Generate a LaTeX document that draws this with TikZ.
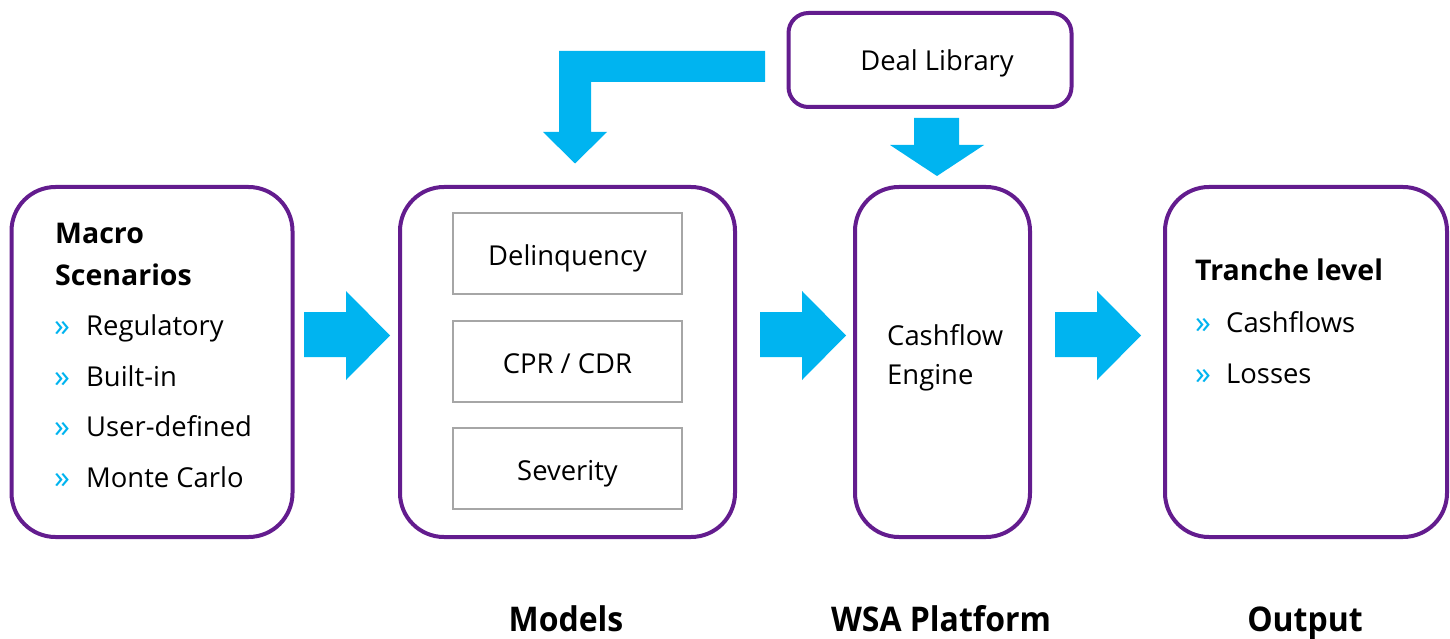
\documentclass[tikz,border=0pt]{standalone}
\usepackage{fontspec}
\setmainfont{Open Sans}
\newfontfamily\condensed[FakeStretch=0.94]{Open Sans}
\usetikzlibrary{positioning}
\definecolor{frame}{RGB}{99,28,142}
\definecolor{flow}{RGB}{0,180,240}
\definecolor{sub}{RGB}{166,166,166}
\tikzset{
  stage/.style={draw=frame, line width=4pt, rounded corners=44pt, fill=white, inner sep=0pt},
  library/.style={draw=frame, line width=4pt, rounded corners=20pt, fill=white, inner sep=0pt},
  part/.style={draw=sub, line width=2.8pt, inner sep=0pt, minimum width=229pt, minimum height=81pt,
    text height=23pt, text depth=0pt, font=\fontsize{27.4}{31}\selectfont},
  txt/.style={anchor=base west, inner sep=0pt, font=\fontsize{27.4}{31}\selectfont},
  head/.style={txt, font=\fontsize{28.5}{32}\selectfont\bfseries},
  bullet/.style={anchor=base west, inner sep=0pt, text=flow, font=\fontsize{32}{34}\selectfont},
  caption/.style={anchor=base, inner sep=0pt, font=\fontsize{34}{38}\selectfont\condensed\bfseries},
  block/.style={fill=flow, draw=none}
}
\begin{document}
\begin{tikzpicture}[x=1pt, y=-1pt]
\useasboundingbox (0,0) rectangle (1450,639);

% stage frames
\node[stage, minimum width=281pt, minimum height=350pt] (macro) at (152,362) {};
\node[stage, minimum width=335pt, minimum height=350pt] (models) at (567.5,362) {};
\node[stage, minimum width=175pt, minimum height=350pt] (engine) at (942.5,362) {};
\node[stage, minimum width=282pt, minimum height=350pt] (output) at (1306,362) {};
\node[library, minimum width=283pt, minimum height=94pt] (deal) at (930,60) {};

% model components
\node[part] (delinq) at (567.5,253.5) {Delinquency};
\node[part] (cpr) at (567.5,361.5) {CPR / CDR};
\node[part] (sev) at (567.5,468.5) {Severity};

% macro scenarios
\node[head] (mh1) at (55,243) {Macro};
\node[head] (mh2) at (55,285) {Scenarios};
\node[bullet] (mb1) at (54,336) {»};
\node[txt] (mt1) at (86,335) {Regulatory};
\node[bullet] (mb2) at (54,387) {»};
\node[txt] (mt2) at (86,386) {Built-in};
\node[bullet] (mb3) at (54,437) {»};
\node[txt] (mt3) at (86,436) {User-defined};
\node[bullet] (mb4) at (54,488) {»};
\node[txt] (mt4) at (86,487) {Monte Carlo};

% engine
\node[txt] (e1) at (887,345) {Cashflow};
\node[txt] (e2) at (887,384) {Engine};

% deal library
\node[txt, anchor=base] (dl) at (937,71) {Deal Library};

% output
\node[head] (oh) at (1195,280) {Tranche level};
\node[bullet] (ob1) at (1195,333) {»};
\node[txt] (ot1) at (1226,332) {Cashflows};
\node[bullet] (ob2) at (1195,384) {»};
\node[txt] (ot2) at (1226,383) {Losses};

% captions
\node[caption] (c1) at (566,631) {Models};
\node[caption] (c2) at (941,631) {WSA Platform};
\node[caption] (c3) at (1305,631) {Output};

% flow arrows between stages
\fill[block] (304,312) -- (346,312) -- (346,291) -- (390,335.5) -- (346,380) -- (346,357) -- (304,357) -- cycle;
\fill[block] (760,312) -- (802,312) -- (802,291) -- (846,335.5) -- (802,380) -- (802,357) -- (760,357) -- cycle;
\fill[block] (1055,312) -- (1097,312) -- (1097,291) -- (1141,335.5) -- (1097,380) -- (1097,357) -- (1055,357) -- cycle;

% deal library feeds the engine
\fill[block] (914,118) -- (959,118) -- (959,145) -- (984,145) -- (937,176) -- (890,145) -- (914,145) -- cycle;

% deal library feeds the models
\fill[block] (765,51) -- (765,82) -- (591,82) -- (591,132) -- (607,132) -- (575,163.5) -- (543,132) -- (559,132) -- (559,51) -- cycle;
\end{tikzpicture}
\end{document}
